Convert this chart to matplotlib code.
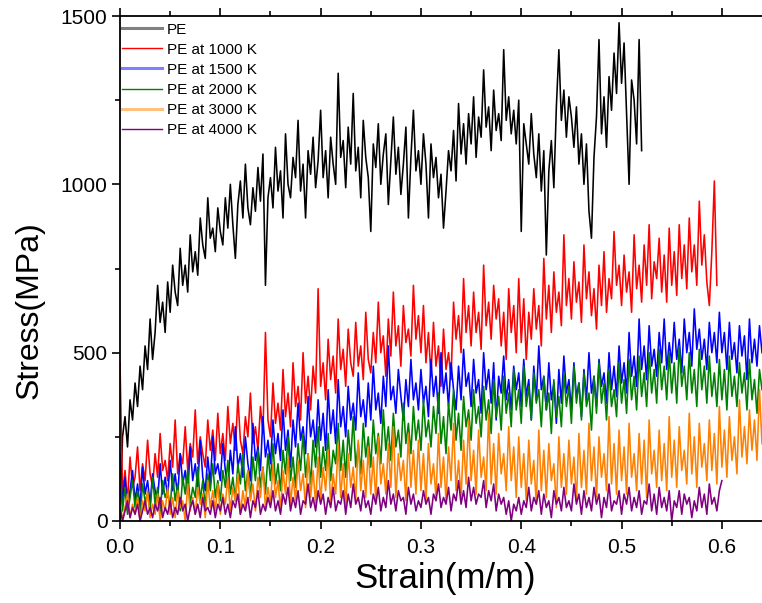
import numpy as np
import matplotlib
matplotlib.use('Agg')
import matplotlib.pyplot as plt
from matplotlib.lines import Line2D
from matplotlib.ticker import MultipleLocator

plt.rcParams['font.family'] = ['Liberation Sans', 'DejaVu Sans']

# stress values (MPa), sampled evenly in strain from 0 up to the end strain
pe_end = 0.52
pe = [0, 250, 310, 220, 360, 300, 410, 340, 460, 390, 520, 450, 600, 480, 560, 700, 590, 650, 560, 710,
      620, 760, 680, 640, 810, 700, 760, 680, 850, 740, 800, 730, 900, 820, 780, 960, 840, 870, 800, 930,
      860, 820, 960, 870, 1000, 880, 780, 940, 1010, 900, 1060, 930, 880, 990, 920, 1050, 950, 1090, 700, 960,
      1020, 930, 1110, 980, 1040, 900, 1150, 1000, 960, 1080, 1020, 1190, 980, 1060, 900, 1100, 1030, 1140, 990, 1070,
      1220, 1020, 1100, 960, 1140, 1060, 1000, 1330, 1080, 1130, 990, 1170, 1060, 1270, 1040, 1110, 960, 1190, 1080, 1020,
      860, 1120, 1050, 1180, 1000, 1090, 1150, 940, 1070, 1200, 1030, 1110, 970, 1060, 1170, 900, 1080, 1220, 1040, 1100,
      1000, 1150, 1060, 900, 1120, 1020, 1080, 960, 1030, 870, 980, 1100, 1040, 1160, 1010, 1240, 1090, 1180, 1060, 1210,
      1120, 1260, 1080, 1200, 1140, 1340, 1170, 1230, 1100, 1280, 1160, 1210, 1130, 1400, 1190, 1260, 1150, 1220, 1120, 1250,
      860, 1180, 1120, 1060, 1210, 1090, 1020, 1150, 980, 1100, 790, 1040, 1130, 990, 1230, 1400, 1190, 1280, 1140, 1260,
      1200, 1110, 1230, 1060, 1150, 1000, 1120, 920, 840, 1080, 1200, 1430, 1150, 1260, 1110, 1320, 1220, 1390, 1270, 1480,
      1300, 1420, 1210, 1000, 1310, 1250, 1120, 1430, 1100]

pe1000_end = 0.595
pe1000 = [470, 80, 150, 60, 190, 100, 130, 220, 90, 170, 120, 240, 140, 100, 200, 130, 260, 150, 180, 120,
          230, 160, 300, 140, 200, 170, 280, 150, 230, 190, 330, 170, 250, 200, 160, 300, 210, 270, 180, 320,
          200, 260, 180, 340, 230, 290, 210, 370, 240, 200, 310, 250, 380, 230, 280, 210, 340, 260, 560, 300,
          250, 410, 290, 350, 270, 450, 310, 380, 280, 470, 340, 400, 300, 500, 350, 430, 330, 460, 380, 690,
          400, 470, 360, 540, 420, 490, 380, 600, 450, 510, 400, 570, 470, 430, 590, 460, 520, 420, 620, 480,
          440, 560, 470, 650, 500, 550, 430, 600, 490, 680, 520, 580, 460, 640, 530, 570, 490, 700, 540, 610,
          500, 640, 470, 560, 430, 590, 460, 520, 400, 570, 450, 500, 420, 650, 540, 610, 500, 720, 560, 640,
          520, 680, 560, 620, 510, 760, 580, 650, 540, 700, 600, 660, 520, 620, 480, 690, 560, 640, 500, 720,
          530, 660, 480, 620, 540, 690, 570, 640, 520, 780, 600, 700, 560, 740, 620, 680, 580, 850, 640, 720,
          600, 770, 650, 710, 590, 820, 660, 740, 610, 690, 570, 760, 640, 800, 620, 720, 660, 860, 700, 760,
          640, 790, 680, 740, 620, 850, 690, 760, 650, 820, 700, 880, 660, 770, 720, 840, 680, 790, 650, 870,
          700, 800, 670, 880, 720, 820, 690, 900, 740, 820, 700, 950, 760, 850, 710, 640, 800, 1010, 700]

pe1500_end = 0.64
pe1500 = [200, 50, 130, 30, 90, 150, 60, 110, 40, 160, 80, 120, 50, 140, 90, 60, 170, 80, 130, 70,
          180, 90, 140, 70, 200, 110, 150, 80, 220, 120, 170, 100, 240, 130, 90, 190, 110, 250, 140, 170,
          120, 230, 150, 100, 210, 140, 280, 160, 200, 130, 250, 170, 120, 290, 180, 220, 150, 310, 190, 240,
          170, 300, 200, 260, 180, 330, 210, 270, 160, 300, 220, 350, 240, 280, 200, 370, 250, 300, 220, 360,
          240, 320, 210, 390, 260, 330, 230, 420, 280, 340, 250, 400, 300, 350, 270, 440, 310, 360, 280, 410,
          300, 460, 330, 380, 290, 430, 340, 520, 360, 400, 320, 450, 370, 300, 420, 340, 480, 360, 410, 330,
          450, 350, 400, 310, 480, 370, 430, 320, 500, 380, 440, 340, 470, 390, 330, 460, 360, 510, 400, 440,
          340, 480, 380, 420, 320, 500, 390, 450, 350, 470, 300, 430, 380, 490, 360, 420, 330, 460, 390, 440,
          340, 480, 370, 420, 300, 460, 360, 520, 390, 430, 330, 470, 360, 410, 290, 450, 350, 490, 380, 420,
          330, 470, 370, 410, 310, 450, 360, 500, 380, 430, 340, 480, 400, 440, 350, 500, 390, 460, 370, 520,
          410, 470, 380, 560, 430, 490, 400, 600, 450, 520, 420, 580, 460, 510, 430, 560, 470, 600, 450, 530,
          470, 590, 480, 540, 440, 600, 500, 560, 460, 630, 510, 570, 480, 540, 450, 590, 500, 560, 470, 620,
          500, 560, 450, 590, 480, 530, 440, 580, 490, 550, 420, 600, 470, 540, 460, 580, 500]

pe2000_end = 0.64
pe2000 = [150, 30, 100, 20, 70, 120, 40, 90, 10, 110, 60, 80, 30, 130, 50, 100, 20, 120, 70, 90,
          40, 140, 60, 110, 30, 130, 80, 150, 50, 100, 70, 160, 60, 120, 40, 140, 90, 170, 70, 120,
          60, 150, 100, 180, 80, 130, 60, 170, 110, 200, 90, 150, 70, 190, 120, 210, 100, 160, 80, 200,
          120, 230, 110, 170, 90, 210, 140, 250, 120, 190, 100, 230, 150, 260, 130, 200, 110, 240, 160, 280,
          130, 220, 150, 260, 120, 210, 170, 290, 150, 240, 130, 270, 180, 310, 160, 230, 140, 290, 190, 250,
          160, 300, 200, 260, 170, 330, 210, 280, 180, 320, 220, 270, 190, 350, 230, 290, 200, 340, 240, 300,
          210, 360, 250, 300, 220, 340, 260, 380, 230, 310, 200, 350, 270, 390, 240, 320, 210, 370, 280, 330,
          240, 390, 290, 340, 250, 400, 300, 360, 260, 420, 310, 370, 270, 430, 320, 380, 280, 450, 330, 390,
          290, 460, 340, 400, 300, 440, 350, 390, 280, 430, 330, 380, 260, 420, 310, 370, 280, 440, 340, 400,
          290, 460, 350, 410, 300, 440, 340, 380, 270, 430, 320, 470, 350, 410, 300, 450, 340, 390, 310, 470,
          350, 420, 320, 480, 360, 430, 330, 490, 370, 440, 340, 500, 380, 450, 350, 510, 390, 460, 360, 500,
          380, 470, 350, 520, 400, 460, 360, 500, 380, 450, 340, 510, 390, 460, 350, 490, 370, 440, 340, 480,
          360, 450, 330, 490, 370, 430, 340, 470, 380, 440, 330, 480, 360, 420, 320, 450, 390]

pe3000_end = 0.64
pe3000 = [60, 0, 40, 80, 10, 50, 20, 70, 0, 60, 30, 90, 10, 50, 20, 80, 0, 60, 30, 100,
          20, 70, 10, 90, 40, 60, 0, 110, 30, 70, 20, 100, 50, 80, 10, 120, 40, 90, 30, 110,
          20, 80, 50, 130, 30, 100, 60, 140, 20, 90, 40, 150, 60, 110, 30, 130, 70, 160, 40, 100,
          50, 170, 70, 120, 30, 150, 80, 190, 50, 130, 60, 180, 90, 140, 40, 200, 70, 150, 50, 190,
          60, 160, 90, 210, 50, 140, 80, 230, 70, 170, 40, 200, 100, 160, 60, 240, 90, 180, 70, 220,
          80, 190, 60, 250, 110, 170, 80, 230, 100, 280, 70, 200, 120, 180, 60, 260, 100, 210, 80, 240,
          90, 200, 60, 230, 110, 170, 70, 260, 100, 190, 60, 220, 120, 290, 90, 180, 70, 240, 110, 300,
          120, 210, 80, 270, 130, 190, 90, 320, 110, 230, 80, 260, 140, 200, 90, 280, 120, 220, 70, 250,
          100, 200, 60, 240, 110, 180, 50, 270, 90, 210, 70, 230, 120, 170, 40, 250, 100, 200, 80, 240,
          110, 190, 60, 260, 100, 210, 80, 290, 120, 220, 70, 250, 130, 200, 90, 310, 110, 230, 80, 270,
          120, 220, 80, 290, 130, 200, 90, 260, 110, 240, 70, 300, 140, 210, 100, 270, 120, 230, 90, 310,
          130, 240, 100, 280, 150, 210, 110, 320, 140, 250, 100, 290, 160, 230, 120, 300, 150, 260, 110, 340,
          160, 270, 130, 310, 180, 250, 140, 360, 190, 280, 170, 330, 210, 300, 180, 390, 230]

pe4000_end = 0.60
pe4000 = [40, 0, 30, 60, 10, 40, 20, 50, 0, 30, 60, 20, 40, 10, 50, 30, 70, 10, 40, 20,
          60, 10, 40, 20, 70, 30, 50, 0, 40, 60, 20, 50, 10, 70, 30, 40, 20, 60, 10, 50,
          30, 70, 20, 50, 10, 60, 40, 80, 20, 50, 30, 70, 10, 60, 40, 90, 20, 50, 30, 70,
          40, 90, 30, 60, 20, 80, 50, 100, 30, 70, 40, 90, 20, 60, 50, 110, 40, 70, 30, 90,
          50, 80, 20, 70, 40, 100, 30, 60, 50, 90, 20, 80, 40, 110, 50, 70, 30, 90, 40, 60,
          20, 80, 50, 100, 30, 70, 40, 120, 50, 80, 30, 90, 60, 70, 20, 100, 50, 80, 30, 60,
          40, 90, 50, 70, 20, 80, 60, 110, 40, 70, 50, 100, 30, 80, 60, 120, 50, 90, 40, 130,
          60, 100, 50, 80, 70, 120, 40, 90, 60, 110, 30, 80, 50, 70, 20, 60, 0, 50, 30, 70,
          20, 60, 40, 100, 30, 70, 50, 90, 20, 80, 40, 60, 10, 90, 50, 70, 30, 100, 40, 60,
          30, 110, 50, 80, 20, 90, 40, 70, 30, 100, 50, 80, 10, 70, 40, 110, 30, 60, 50, 90,
          20, 80, 50, 100, 30, 70, 40, 90, 20, 60, 50, 110, 30, 80, 20, 100, 40, 70, 30, 90,
          0, 60, 40, 90, 20, 80, 50, 70, 10, 60, 30, 100, 40, 80, 20, 110, 50, 70, 30, 90,
          120]

series = [
    (pe, pe_end, 'black', 'PE'),
    (pe1000, pe1000_end, '#ff0000', 'PE at 1000 K'),
    (pe1500, pe1500_end, '#0000ff', 'PE at 1500 K'),
    (pe2000, pe2000_end, '#008000', 'PE at 2000 K'),
    (pe3000, pe3000_end, '#ff8000', 'PE at 3000 K'),
    (pe4000, pe4000_end, '#800080', 'PE at 4000 K'),
]
# legend handles look a bit different from the curves in the original
legend_style = [('#808080', 2.2), ('#ff0000', 1.0), ('#8080ff', 2.2),
                ('#008000', 1.0), ('#ffc080', 2.2), ('#800080', 1.0)]

fig = plt.figure(figsize=(7.62, 6.03), dpi=100)
ax = fig.add_axes([120 / 762, 1 - 521 / 603, 642 / 762, 505 / 603])

for vals, end, color, name in series:
    strain = np.linspace(0, end, len(vals))
    ax.plot(strain, vals, color=color, lw=1.15)

ax.set_xlim(0, 0.64)
ax.set_ylim(0, 1500)
ax.xaxis.set_major_locator(MultipleLocator(0.1))
ax.xaxis.set_minor_locator(MultipleLocator(0.05))
ax.yaxis.set_major_locator(MultipleLocator(500))
ax.yaxis.set_minor_locator(MultipleLocator(250))
ax.tick_params(which='major', direction='out', length=6, width=1.2, labelsize=15, top=True)
ax.tick_params(which='minor', direction='out', length=3.5, width=1.2, top=True)
ax.tick_params(axis='x', which='major', pad=6)
ax.tick_params(axis='y', which='major', pad=3)
for s in ['left', 'bottom', 'top']:
    ax.spines[s].set_linewidth(1.3)
ax.spines['right'].set_visible(False)

ax.set_xlabel('Strain(m/m)', fontsize=25)
ax.set_ylabel('Stress(MPa)', fontsize=23)
ax.xaxis.set_label_coords(0.506, -0.081)
ax.yaxis.set_label_coords(-0.117, 0.418)

handles = [Line2D([], [], color=c, lw=w) for c, w in legend_style]
labels = [s[3] for s in series]
ax.legend(handles, labels, loc='upper left', bbox_to_anchor=(0.003, 0.987),
          frameon=False, fontsize=11, handlelength=2.6, handletextpad=0.33,
          labelspacing=0.4, borderaxespad=0.0, borderpad=0.0)

fig.savefig('out.png', dpi=100)
